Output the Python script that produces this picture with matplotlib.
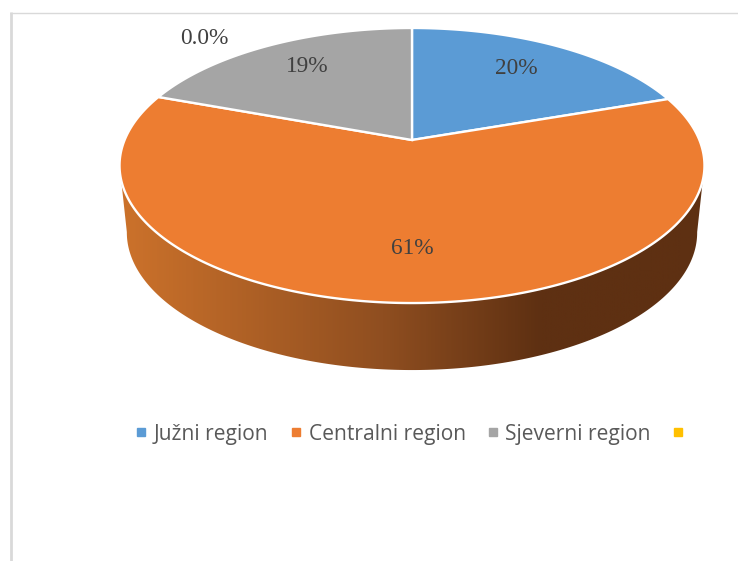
import numpy as np
import matplotlib
matplotlib.use("Agg")
import matplotlib.pyplot as plt
from matplotlib.colors import LinearSegmentedColormap
from matplotlib.lines import Line2D
from matplotlib.patches import Polygon

categories = ["Južni region", "Centralni region", "Sjeverni region", ""]
values = [19.7, 60.9, 19.4, 0]
value_labels = ["20%", "61%", "19%", "0.0%"]
colors = ["#5B9BD5", "#ED7D31", "#A5A5A5", "#FFC000"]

# layout of the tilted pie, in pixels of the 738x561 picture
cx, cy = 412, 140
width_b, height_a, tilt = 287.4, 132.8, -0.1855
depth = 67
label_pos = [(516, 68), (412, 248), (307, 66), (204, 38)]


def project(angle, r=1.0):
    # angle is clockwise from twelve o'clock, in radians
    u = r * np.sin(angle)
    v = -r * np.cos(angle)
    d = 1 + tilt * v
    return cx + width_b * u / d, cy + height_a * v / d


fig = plt.figure(figsize=(7.38, 5.61), dpi=100)
ax = fig.add_axes([0, 0, 1, 1])
ax.set_xlim(0, 738)
ax.set_ylim(561, 0)
ax.axis("off")

# chart frame, left side is thicker than the top
ax.plot([10.7, 10.7], [12, 561], color="#D9D9D9", lw=2.0, solid_capstyle="butt")
ax.plot([9.5, 738], [12.7, 12.7], color="#D9D9D9", lw=1.0, solid_capstyle="butt")

# side wall with the dark gradient
t = np.linspace(0, 2 * np.pi, 721)
x_top, y_top = project(t)
front = y_top > 165
order = np.argsort(x_top[front])
xf, yf = x_top[front][order], y_top[front][order]
xb = cx + (xf - cx) * 0.975
yb = yf + depth
wall = Polygon(np.vstack([np.column_stack([xf, yf]), np.column_stack([xb, yb])[::-1]]),
               closed=True, fc="none", ec="none")
ax.add_patch(wall)
wall_cmap = LinearSegmentedColormap.from_list(
    "wall", [(0, "#CC722B"), (0.45, "#8F4E20"), (0.72, "#5E3012"), (1, "#5E3012")])
img = ax.imshow(np.linspace(0, 1, 600)[None, :], cmap=wall_cmap, aspect="auto",
                extent=(xf.min(), xf.max(), 380, 160), zorder=1)
img.set_clip_path(wall)
ax.set_xlim(0, 738)
ax.set_ylim(561, 0)

# slices, clockwise from the top
fractions = np.array(values) / sum(values)
start = 0.0
for frac, col in zip(fractions, colors):
    if frac == 0:
        continue
    a = np.linspace(start, start + frac * 2 * np.pi, 300)
    x, y = project(a)
    pts = np.vstack([[cx, cy], np.column_stack([x, y])])
    ax.add_patch(Polygon(pts, closed=True, fc=col, ec="white", lw=1.7, zorder=2))
    start += frac * 2 * np.pi

for txt, (lx, ly) in zip(value_labels, label_pos):
    ax.text(lx, ly, txt, ha="center", va="center", fontsize=16.8, color="#404040",
            family="Liberation Serif", zorder=3)

handles = [Line2D([], [], ls="none", marker="s", ms=5.8, mfc=c, mec=c) for c in colors]
ax.legend(handles, categories, ncols=4, loc="center", bbox_to_anchor=(413, 434),
          bbox_transform=ax.transData, frameon=False,
          labelcolor="#595959", handlelength=0.6, handletextpad=0.3,
          columnspacing=1.0, prop={"family": "Open Sans", "size": 15.1})

fig.savefig("out.png", dpi=100)
